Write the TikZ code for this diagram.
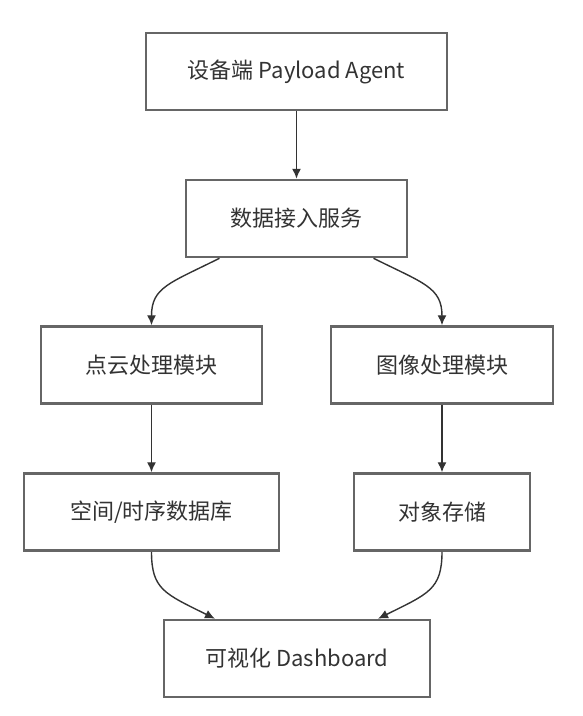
\documentclass[tikz,border=0pt]{standalone}
\usepackage{fontspec}
\setmainfont{Noto Sans CJK SC}
\usepackage{tikz}
\usetikzlibrary{arrows.meta}

\definecolor{boxline}{HTML}{666666}
\definecolor{ink}{HTML}{333333}

\begin{document}
\begin{tikzpicture}[x=1pt, y=-1pt,
    box/.style={draw=boxline, line width=2.5pt, fill=white, text=ink, inner sep=0pt,
        minimum height=77pt, font=\fontsize{22}{26}\selectfont},
    flow/.style={draw=ink, line width=1.4pt, -{Latex[length=10pt,width=9pt]}}]
    \useasboundingbox (0,0) rectangle (582,716);
    \node[box, minimum width=301pt] (dev) at (296.5,71.5) {设备端 Payload Agent};
    \node[box, minimum width=221pt] (svc) at (296.5,218.5) {数据接入服务};
    \node[box, minimum width=221pt] (pc) at (151.5,365) {点云处理模块};
    \node[box, minimum width=222pt] (img) at (442,365) {图像处理模块};
    \node[box, minimum width=255pt] (db) at (151.5,512) {空间/时序数据库};
    \node[box, minimum width=176pt] (obj) at (442,512) {对象存储};
    \node[box, minimum width=266pt] (dash) at (297,658.5) {可视化 Dashboard};

    \draw[flow] (dev) -- (svc);
    \draw[flow] ([xshift=-77pt]svc.south) .. controls +(-50,25) and +(0,-38) .. (pc.north);
    \draw[flow] ([xshift=77pt]svc.south) .. controls +(50,25) and +(0,-38) .. (img.north);
    \draw[flow] (pc) -- (db);
    \draw[flow] (img) -- (obj);
    \draw[flow] (db.south) .. controls +(0,38) and +(-50,-25) .. ([xshift=-82pt]dash.north);
    \draw[flow] (obj.south) .. controls +(0,38) and +(50,-25) .. ([xshift=81pt]dash.north);
\end{tikzpicture}
\end{document}
